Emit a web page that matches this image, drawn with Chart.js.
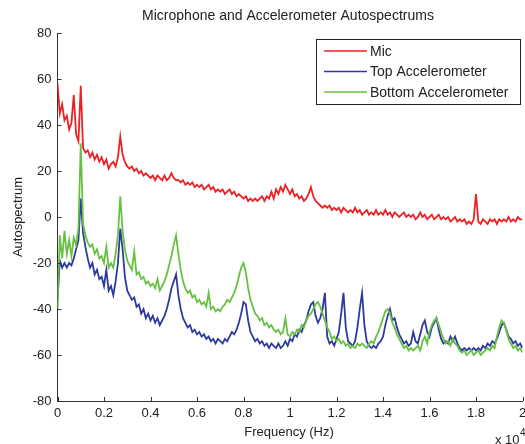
<!DOCTYPE html>
<html>
<head>
<meta charset="utf-8">
<script src="https://cdn.jsdelivr.net/npm/chart.js"></script>
<style>
  body { margin: 0; background: #fff; }
  #wrap { width: 525px; height: 444px; }
</style>
</head>
<body>
<div id="wrap"><canvas id="spectra" width="525" height="444"></canvas></div>
<script>
// frequency in units of 10^4 Hz
const freq = [
  0.00, 0.01, 0.02, 0.03, 0.04, 0.05, 0.06, 0.07, 0.08, 0.09, 0.10, 0.11, 0.12, 0.13, 0.14, 0.15, 0.16, 0.17, 0.18, 0.19,
  0.20, 0.21, 0.22, 0.23, 0.24, 0.25, 0.26, 0.27, 0.28, 0.29, 0.30, 0.31, 0.32, 0.33, 0.34, 0.35, 0.36, 0.37, 0.38, 0.39,
  0.40, 0.41, 0.42, 0.43, 0.44, 0.45, 0.46, 0.47, 0.48, 0.49, 0.50, 0.51, 0.52, 0.53, 0.54, 0.55, 0.56, 0.57, 0.58, 0.59,
  0.60, 0.61, 0.62, 0.63, 0.64, 0.65, 0.66, 0.67, 0.68, 0.69, 0.70, 0.71, 0.72, 0.73, 0.74, 0.75, 0.76, 0.77, 0.78, 0.79,
  0.80, 0.81, 0.82, 0.83, 0.84, 0.85, 0.86, 0.87, 0.88, 0.89, 0.90, 0.91, 0.92, 0.93, 0.94, 0.95, 0.96, 0.97, 0.98, 0.99,
  1.00, 1.01, 1.02, 1.03, 1.04, 1.05, 1.06, 1.07, 1.08, 1.09, 1.10, 1.11, 1.12, 1.13, 1.14, 1.15, 1.16, 1.17, 1.18, 1.19,
  1.20, 1.21, 1.22, 1.23, 1.24, 1.25, 1.26, 1.27, 1.28, 1.29, 1.30, 1.31, 1.32, 1.33, 1.34, 1.35, 1.36, 1.37, 1.38, 1.39,
  1.40, 1.41, 1.42, 1.43, 1.44, 1.45, 1.46, 1.47, 1.48, 1.49, 1.50, 1.51, 1.52, 1.53, 1.54, 1.55, 1.56, 1.57, 1.58, 1.59,
  1.60, 1.61, 1.62, 1.63, 1.64, 1.65, 1.66, 1.67, 1.68, 1.69, 1.70, 1.71, 1.72, 1.73, 1.74, 1.75, 1.76, 1.77, 1.78, 1.79,
  1.80, 1.81, 1.82, 1.83, 1.84, 1.85, 1.86, 1.87, 1.88, 1.89, 1.90, 1.91, 1.92, 1.93, 1.94, 1.95, 1.96, 1.97, 1.98, 1.99,
  2.00
];

const mic = [
  58, 45, 49, 42, 44, 38, 41, 53, 36, 33, 57, 30, 28, 29, 26, 28, 25, 27, 24, 26,
  23, 25, 21, 23, 24, 22, 26, 35, 27, 24, 22, 21, 22, 20, 21, 19, 20, 18, 19, 18,
  17, 18, 16, 18, 17, 16, 18, 16, 17, 19, 17, 16, 16, 15, 16, 14, 15, 14, 15, 13,
  14, 13, 14, 12, 13, 14, 12, 13, 11, 12, 11, 12, 10, 11, 12, 10, 11, 9, 10, 9,
  8, 9, 7, 8, 7, 8, 7, 8, 9, 7, 9, 8, 11, 8, 12, 10, 13, 11, 14, 12,
  10, 12, 9, 10, 8, 9, 7, 8, 10, 13, 9, 7, 6, 5, 4, 5, 4, 5, 3, 4,
  3, 4, 2, 4, 3, 2, 3, 2, 4, 2, 3, 1, 2, 3, 1, 2, 1, 3, 1, 2,
  1, 3, 1, 2, 0, 2, 1, 0, 1, 2, 0, 1, 0, 1, -1, 0, 2, 0, 1, -1,
  0, 1, -1, 0, 1, -1, 0, -1, 0, -2, -1, 0, -2, -1, -2, -1, -3, -2, -3, -1,
  10, -2, -3, -1, -2, -3, -1, -2, -1, -3, -1, -2, -1, -2, 0, -2, -1, -2, 0, -1,
  -1
];

const topAccel = [
  -36, -19, -22, -20, -22, -20, -21, -18, -14, -10, 8, -7, -13, -18, -22, -20, -25, -23, -27, -26,
  -30, -23, -32, -30, -34, -28, -20, -5, -14, -26, -32, -34, -36, -35, -39, -38, -42, -40, -44, -42,
  -45, -43, -46, -44, -47, -45, -43, -40, -36, -31, -28, -25, -34, -40, -44, -46, -48, -47, -50, -49,
  -51, -50, -52, -51, -53, -52, -54, -53, -55, -53, -54, -55, -53, -54, -52, -50, -51, -49, -46, -42,
  -37, -38, -45, -50, -52, -54, -53, -55, -54, -56, -55, -57, -55, -56, -57, -55, -57, -56, -54, -56,
  -53, -54, -51, -52, -49, -50, -47, -45, -41, -38, -37, -43, -46, -44, -40, -33, -52, -55, -54, -56,
  -53, -50, -42, -33, -48, -54, -55, -56, -54, -48, -40, -33, -47, -54, -56, -57, -56, -57, -55, -54,
  -52, -47, -43, -40, -45, -44, -48, -51, -53, -55, -54, -56, -55, -50, -54, -55, -51, -47, -45, -50,
  -52, -48, -46, -44, -49, -53, -55, -54, -55, -52, -54, -52, -55, -57, -58, -57, -58, -57, -58, -57,
  -58, -57, -58, -56, -57, -55, -56, -54, -55, -53, -50, -47, -46, -49, -52, -53, -55, -54, -56, -55,
  -57
];

const bottomAccel = [
  -40, -8, -18, -6, -16, -10, -17, -9, -12, -5, 32, -3, -8, -11, -13, -12, -16, -14, -18, -17,
  -20, -13, -22, -20, -22, -16, -8, 9, -6, -14, -19, -21, -23, -15, -25, -24, -27, -26, -29, -28,
  -30, -29, -31, -27, -32, -30, -28, -25, -21, -17, -12, -8, -16, -23, -28, -31, -33, -32, -35, -34,
  -37, -36, -38, -37, -39, -33, -40, -39, -41, -40, -41, -39, -38, -36, -37, -35, -33, -30, -26, -22,
  -20, -24, -31, -36, -39, -42, -43, -45, -44, -47, -46, -48, -47, -49, -50, -49, -51, -50, -44, -51,
  -52, -50, -51, -49, -50, -47, -48, -45, -43, -42, -40, -38, -37, -39, -42, -45, -48, -50, -53, -52,
  -54, -53, -55, -54, -56, -55, -57, -56, -57, -55, -56, -55, -56, -57, -55, -54, -55, -52, -50, -47,
  -44, -41, -40, -42, -46, -48, -51, -53, -55, -57, -56, -58, -57, -58, -57, -56, -58, -54, -52, -55,
  -50, -47, -45, -44, -47, -50, -53, -55, -54, -56, -53, -55, -56, -58, -59, -58, -60, -59, -58, -60,
  -59, -58, -60, -59, -58, -57, -58, -56, -57, -52, -48, -45, -46, -49, -53, -55, -57, -56, -58, -57,
  -59
];

const yTicks = [-80, -60, -40, -20, 0, 20, 40, 60, 80];
const seriesNames = ["Mic", "Top Accelerometer", "Bottom Accelerometer"];
const seriesColors = ["#ec2124", "#2d3b9e", "#68c043"];

function toPoints(values) {
  return values.map(function (v, i) {
    return { x: freq[i], y: v };
  });
}

const txt = "#222222";
const fontFam = "'Liberation Sans', Arial, sans-serif";

// MATLAB-like decorations: inward ticks, title, axis labels, boxed legend
const decor = {
  id: "decor",
  afterDraw: function (chart) {
    const ctx = chart.ctx;
    const area = chart.chartArea;
    const xs = chart.scales.x;
    const ys = chart.scales.y;
    ctx.save();
    ctx.strokeStyle = "#333";
    ctx.lineWidth = 1;
    xs.ticks.forEach(function (t) {
      const px = Math.round(xs.getPixelForValue(t.value)) + 0.5;
      ctx.beginPath();
      ctx.moveTo(px, area.bottom);
      ctx.lineTo(px, area.bottom - 4);
      ctx.stroke();
    });
    ys.ticks.forEach(function (t) {
      const py = Math.round(ys.getPixelForValue(t.value)) + 0.5;
      ctx.beginPath();
      ctx.moveTo(area.left, py);
      ctx.lineTo(area.left + 4, py);
      ctx.stroke();
    });

    ctx.fillStyle = txt;
    ctx.textAlign = "center";
    ctx.textBaseline = "middle";
    ctx.font = "14px " + fontFam;
    ctx.fillText("Microphone and Accelerometer Autospectrums", 288, 16);
    ctx.font = "13px " + fontFam;
    ctx.fillText("Frequency (Hz)", 289, 432);

    ctx.save();
    ctx.translate(18, 217);
    ctx.rotate(-Math.PI / 2);
    ctx.fillText("Autospectrum", 0, 0);
    ctx.restore();

    ctx.textAlign = "left";
    ctx.fillText("x 10", 495, 440);
    ctx.font = "10px " + fontFam;
    ctx.fillText("4", 520, 433);

    // legend box
    ctx.fillStyle = "#fff";
    ctx.fillRect(316, 39, 204, 65);
    ctx.strokeStyle = "#222";
    ctx.lineWidth = 1;
    ctx.strokeRect(316.5, 39.5, 204, 65);
    ctx.font = "14px " + fontFam;
    seriesNames.forEach(function (name, i) {
      const y = 51 + i * 20.5;
      ctx.strokeStyle = seriesColors[i];
      ctx.lineWidth = 1.5;
      ctx.beginPath();
      ctx.moveTo(324, y);
      ctx.lineTo(367, y);
      ctx.stroke();
      ctx.fillStyle = txt;
      ctx.fillText(name, 370, y + 1);
    });
    ctx.restore();
  }
};

new Chart(document.getElementById("spectra"), {
  type: "line",
  data: {
    datasets: [
      {
        label: seriesNames[0],
        data: toPoints(mic),
        borderColor: seriesColors[0],
        borderWidth: 1.8,
        pointRadius: 0,
        order: 2
      },
      {
        label: seriesNames[1],
        data: toPoints(topAccel),
        borderColor: seriesColors[1],
        borderWidth: 1.8,
        pointRadius: 0,
        order: 1
      },
      {
        label: seriesNames[2],
        data: toPoints(bottomAccel),
        borderColor: seriesColors[2],
        borderWidth: 1.8,
        pointRadius: 0,
        order: 0
      }
    ]
  },
  options: {
    responsive: false,
    animation: false,
    layout: { padding: { top: 33, right: 2.5, left: 0, bottom: 0 } },
    plugins: {
      legend: { display: false },
      tooltip: { enabled: false },
      title: { display: false }
    },
    scales: {
      x: {
        type: "linear",
        min: 0,
        max: 2,
        grid: { display: false, drawTicks: false },
        border: { display: true, color: "#333", width: 1 },
        ticks: {
          stepSize: 0.2,
          padding: 5,
          maxRotation: 0,
          color: txt,
          font: { family: fontFam, size: 13 },
          callback: function (v) { return String(+v.toFixed(1)); }
        },
        afterFit: function (scale) {
          scale.height = 43;
          scale.paddingLeft = 0;
          scale.paddingRight = 0;
        }
      },
      y: {
        min: -80,
        max: 80,
        afterBuildTicks: function (scale) {
          scale.ticks = yTicks.map(function (v) { return { value: v }; });
        },
        grid: { display: false, drawTicks: false },
        border: { display: true, color: "#333", width: 1 },
        ticks: {
          padding: 6,
          color: txt,
          font: { family: fontFam, size: 13 }
        },
        afterFit: function (scale) {
          scale.width = 57.5;
        }
      }
    }
  },
  plugins: [decor]
});
</script>
</body>
</html>
